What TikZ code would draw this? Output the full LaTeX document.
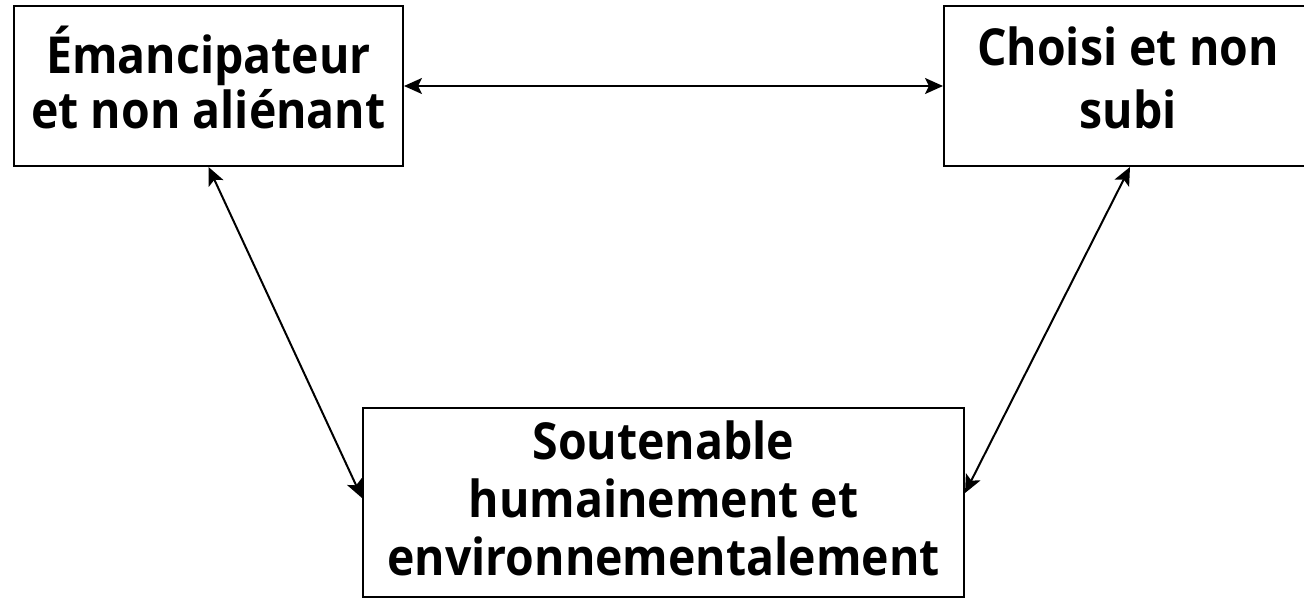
\documentclass[tikz,border=0pt]{standalone}
\usepackage{fontspec}
\setmainfont{Open Sans}[FakeStretch=0.91]
\usetikzlibrary{arrows.meta}
\begin{document}
\begin{tikzpicture}[x=1pt,y=1pt,
  box/.style={draw, line width=2pt, inner sep=0pt},
  lbl/.style={font=\fontsize{51}{58}\selectfont\bfseries, align=center, inner sep=0pt, anchor=base},
  link/.style={{Stealth[length=18pt,width=16pt,inset=4pt]}-{Stealth[length=18pt,width=16pt,inset=4pt]}, line width=2pt}]
\useasboundingbox (0,0) rectangle (1304,-598);
\node[box, minimum width=389pt, minimum height=160pt] (A) at (208.5,-86) {};
\node[box, minimum width=372pt, minimum height=160pt] (B) at (1130,-86) {};
\node[box, minimum width=601pt, minimum height=189pt] (C) at (663.5,-502.5) {};
\node[lbl] (tA) at (208.5,-128) {Émancipateur\\[-3pt]et non aliénant};
\node[lbl] (tB) at (1128,-128) {Choisi et non\\[5pt]subi};
\node[lbl] (tC) at (663.5,-575) {Soutenable\\humainement et\\environnementalement};
\draw[link] (A.east) -- (B.west);
\draw[link] (A.south) -- ([yshift=4.5pt]C.west);
\draw[link] (B.south) -- ([yshift=9.5pt]C.east);
\end{tikzpicture}
\end{document}
